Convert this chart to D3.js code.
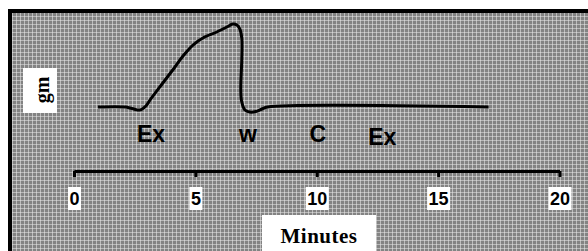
<!DOCTYPE html>
<html>
<head>
<meta charset="utf-8">
<script src="https://cdn.jsdelivr.net/npm/d3@7"></script>
<style>
html,body{margin:0;padding:0;background:#fff;}
svg{display:block;}
</style>
</head>
<body>
<svg id="chart" width="588" height="251"></svg>
<script>
// Data (time in minutes, tension in arbitrary gm units)
const traceTime = [0.99, 2.10, 2.39, 2.72, 2.96, 3.13, 3.66, 4.16, 4.49, 4.90, 5.31, 5.88, 6.30, 6.54, 6.71, 6.83, 6.91, 6.91, 6.87, 6.91, 7.04, 7.24, 7.49, 7.74, 7.98, 17.08];
const traceValue = [0, 0, -0.18, -0.36, 0.12, 0.83, 2.86, 4.76, 6.07, 7.38, 8.21, 8.93, 9.52, 9.88, 9.76, 9.29, 8.21, 5.6, 2.02, 0.6, -0.36, -0.6, -0.54, -0.24, 0, 0];
const tickValues = [0, 5, 10, 15, 20];
const eventLabels = ["Ex", "w", "C", "Ex"];
const eventTimes = [3.17, 7.17, 10.04, 12.7];
const xTitle = "Minutes";
const yTitle = "gm";

const svg = d3.select("#chart");

// background pattern
const defs = svg.append("defs");
const pat = defs.append("pattern").attr("id","grid").attr("patternUnits","userSpaceOnUse")
  .attr("width",4).attr("height",4);
pat.append("rect").attr("width",4).attr("height",4).attr("fill","#838383");
pat.append("rect").attr("x",0).attr("y",0).attr("width",1).attr("height",4).attr("fill","#bdbdbd");
pat.append("rect").attr("x",0).attr("y",0).attr("width",4).attr("height",1).attr("fill","#b8b8b8");
pat.append("rect").attr("x",0).attr("y",0).attr("width",1).attr("height",1).attr("fill","#d4d4d4");

svg.append("rect").attr("x",10).attr("y",11).attr("width",600).attr("height",260)
  .attr("fill","url(#grid)").attr("stroke","#000").attr("stroke-width",4);

const x = d3.scaleLinear().domain([0,20]).range([74,559.5]);
const y = d3.scaleLinear().domain([0,10]).range([107,23]);

// trace
const pts = traceTime.map((t,i)=>[t, traceValue[i]]);
const line = d3.line().x(d=>x(d[0])).y(d=>y(d[1])).curve(d3.curveCatmullRom.alpha(0.5));
svg.append("path").attr("d", line(pts)).attr("fill","none").attr("stroke","#000")
  .attr("stroke-width",3).attr("stroke-linejoin","round").attr("stroke-linecap","butt");

// event labels
svg.selectAll("text.ev").data(eventLabels).enter().append("text").attr("class","ev")
  .attr("x",(d,i)=>x(eventTimes[i])).attr("y",(d,i)=> i===3 ? 145 : 142)
  .attr("text-anchor","middle")
  .attr("font-family","'Liberation Sans', Arial, sans-serif").attr("font-weight","bold")
  .attr("font-size",23).attr("fill","#000").text(d=>d);

// axis
const axisG = svg.append("g").attr("transform","translate(0,171)");
const axis = d3.axisBottom(x).tickValues(tickValues).tickSize(6).tickSizeOuter(0).tickFormat(d3.format("d"));
axisG.call(axis);
axisG.select(".domain").attr("stroke","#000").attr("stroke-width",3);
axisG.selectAll(".tick line").attr("stroke","#000").attr("stroke-width",3);
axisG.selectAll(".tick text").remove();
const tk = axisG.selectAll(".tick");
tk.each(function(d){
  const g = d3.select(this);
  const t = g.append("text").attr("x",0).attr("y",34).attr("text-anchor","middle")
    .attr("font-family","'Liberation Sans', Arial, sans-serif").attr("font-weight","bold")
    .attr("font-size",18).attr("fill","#000").text(d3.format("d")(d));
  const bb = t.node().getBBox();
  g.insert("rect","text").attr("x",bb.x-1.5).attr("y",16).attr("width",bb.width+3).attr("height",23).attr("fill","#fff");
});

// x title
svg.append("rect").attr("x",262).attr("y",215).attr("width",114).attr("height",40).attr("fill","#fff");
svg.append("text").attr("x",319).attr("y",243).attr("text-anchor","middle")
  .attr("font-family","'Liberation Serif', 'Times New Roman', serif").attr("font-weight","bold")
  .attr("font-size",21).attr("letter-spacing",0.5).attr("fill","#000").text(xTitle);

// y title
svg.append("rect").attr("x",23).attr("y",68).attr("width",34).attr("height",45).attr("fill","#fff");
svg.append("text").attr("transform","translate(49,90) rotate(-90)").attr("text-anchor","middle")
  .attr("font-family","'Liberation Serif', 'Times New Roman', serif").attr("font-weight","bold")
  .attr("font-size",20).attr("fill","#000").text(yTitle);
</script>
</body>
</html>
